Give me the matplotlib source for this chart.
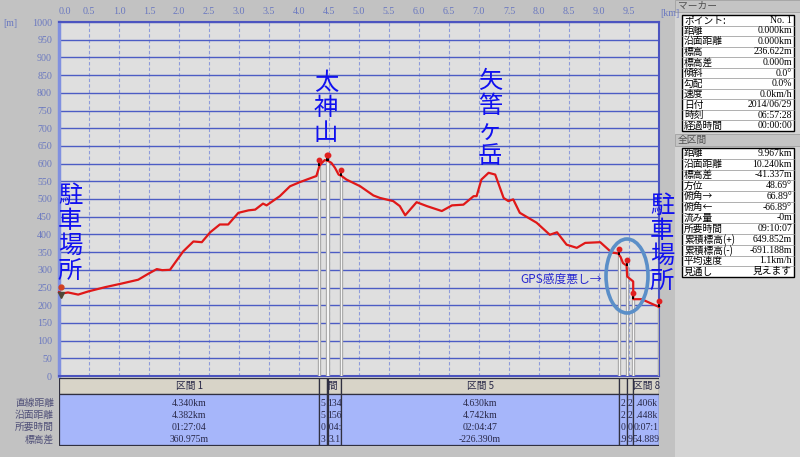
import numpy as np
import matplotlib
matplotlib.use('Agg')
import matplotlib.pyplot as plt
from matplotlib.patches import Rectangle, Ellipse

plt.rcParams['font.family'] = ['Noto Sans CJK JP', 'DejaVu Sans']

# 標高プロファイル (距離 km, 標高 m) - 画像から読み取り
dist_km = [0.00, 0.05, 0.15, 0.32, 0.49, 0.77, 1.04, 1.32, 1.49, 1.63, 1.72, 1.85,
           1.93, 2.07, 2.24, 2.38, 2.52, 2.68, 2.82, 2.99, 3.16, 3.27, 3.40, 3.46,
           3.68, 3.85, 4.02, 4.29, 4.34, 4.38, 4.43, 4.49, 4.54, 4.60, 4.66, 4.71,
           4.79, 5.02, 5.24, 5.35, 5.57, 5.68, 5.77, 5.96, 6.13, 6.38, 6.55, 6.74,
           6.91, 6.96, 7.04, 7.16, 7.27, 7.41, 7.49, 7.57, 7.68, 7.96, 8.18, 8.30,
           8.46, 8.63, 8.77, 9.02, 9.21, 9.32, 9.36, 9.40, 9.46, 9.47, 9.57, 9.57,
           9.71, 10.0]
elev_m = [237, 233, 236, 230, 239, 251, 261, 272, 289, 302, 299, 300,
          319, 352, 380, 378, 406, 428, 428, 461, 468, 470, 487, 482,
          508, 536, 548, 565, 593, 602, 610, 607, 602, 588, 569, 565,
          555, 536, 510, 503, 494, 480, 454, 491, 480, 466, 482, 484,
          508, 508, 555, 574, 569, 503, 494, 499, 461, 433, 399, 406,
          371, 362, 376, 378, 349, 346, 336, 319, 312, 281, 267, 217,
          217, 195]

# 区間の境界 (マーカー位置)
marker_km = [4.34, 4.46, 4.48, 4.70, 9.34, 9.46, 9.57, 10.0]
sec_edges = [0.0] + marker_km
sec_names = ['区間 1', '区間 2', '区間 3', '区間 4', '区間 5', '区間 6', '区間 7', '区間 8']
sec_straight = ['4.340km', '0.153km', '0.012km', '0.134km', '4.630km', '0.120km', '0.127km', '0.406km']
sec_surface = ['4.382km', '0.255km', '0.020km', '0.156km', '4.742km', '0.127km', '0.129km', '0.448km']
sec_time = ['01:27:04', '00:04:20', '00:00:20', '00:04:20', '02:04:47', '00:04:40', '00:04:40', '00:07:14']
sec_diff = ['360.975m', '19.310m', '3.100m', '-93.100m', '-226.390m', '-18.900m', '-8.950m', '-54.889m']
row_labels = ['直線距離', '沿面距離', '所要時間', '標高差']

marker_labels = ['ポイント:', '距離', '沿面距離', '標高', '標高差', '傾斜', '勾配',
                 '速度', '日付', '時刻', '経過時間']
marker_values = ['No. 1', '0.000km', '0.000km', '236.622m', '0.000m', '0.0°', '0.0%',
                 '0.0km/h', '2014/06/29', '06:57:28', '00:00:00']
total_labels = ['距離', '沿面距離', '標高差', '方位', '俯角→', '俯角←', '流み量',
                '所要時間', '累積標高(+)', '累積標高(-)', '平均速度', '見通し']
total_values = ['9.967km', '10.240km', '-41.337m', '48.69°', '66.89°', '-66.89°', '-0m',
                '09:10:07', '649.852m', '-691.188m', '1.1km/h', '見えます']

W, H = 800, 457
BG = '#c2c2c2'
SERIF = ['Liberation Serif', 'Noto Sans CJK JP']
ANNOT = '#1010f0'


def px_box(x0, y0, x1, y1):
    return [x0 / W, 1 - y1 / H, (x1 - x0) / W, (y1 - y0) / H]


def char_w(c):
    if ord(c) > 0x2000:
        return 9.5
    if c in '.:':
        return 2.5
    if c == ' ':
        return 2.5
    if c == 'm':
        return 7.6
    return 4.9


def fit_text(s, width_px):
    # 狭いセルでは中央部分だけ見える
    s = list(s)
    while s and sum(char_w(c) for c in s) > width_px + 2:
        if len(s) % 2:
            s = s[1:]
        else:
            s = s[:-1]
    return ''.join(s)


fig = plt.figure(figsize=(W / 100, H / 100), dpi=100, facecolor=BG)

# メインの標高グラフ
ax = fig.add_axes(px_box(59, 22, 659, 376))
ax.set_facecolor('#dfdfdf')
ax.set_xlim(0, 10)
ax.set_ylim(0, 1000)
xt = np.arange(0, 10.01, 0.5)
ax.set_xticks(xt)
ax.set_xticklabels(['%.1f' % v for v in xt[:-1]] + [''])
ax.set_yticks(np.arange(0, 1001, 50))
ax.xaxis.tick_top()
ax.tick_params(length=0, labelsize=7.2, labelcolor='#6a78c0')
ax.tick_params(axis='x', pad=4)
ax.tick_params(axis='y', pad=5)
for lbl in ax.get_xticklabels() + ax.get_yticklabels():
    lbl.set_family('Liberation Serif')
ax.get_xticklabels()[0].set_ha('left')
ax.grid(axis='y', color='#4c5cc4', lw=1.0)
ax.grid(axis='x', color='#8e9cdc', lw=0.8, ls=(0, (3, 2)))
ax.set_axisbelow(True)
for sp in ax.spines.values():
    sp.set_color('#4c54c0')
    sp.set_linewidth(1.5)
ax.spines['left'].set_color('#8090e0')
ax.spines['left'].set_linewidth(2.5)

mk_elev = np.interp(marker_km, dist_km, elev_m)
ax.vlines(marker_km, 0, mk_elev, color='#a8a8a8', lw=2.4, zorder=3)
ax.vlines(marker_km, 0, mk_elev, color='#f6f6f6', lw=0.8, zorder=3)
ax.plot(dist_km, elev_m, color='#e01818', lw=1.6, zorder=5, clip_on=False)
ax.vlines(marker_km, mk_elev, mk_elev + 14, color='black', lw=1.4, zorder=6, clip_on=False)
ax.plot(marker_km, mk_elev + 17, 'o', color='#e02020', ms=3.2, zorder=7, clip_on=False)
# スタート地点のアイコン
ax.plot([0.03], [252], 'o', color='#d04020', ms=3.5, zorder=7, clip_on=False)
ax.plot([0.03], [230], 'v', color='#504838', ms=5, zorder=7, clip_on=False)

# 区間テーブル
tab = fig.add_axes(px_box(59, 378, 659, 446))
tab.set_xlim(0, 10)
tab.set_ylim(446, 378)
tab.axis('off')
row_y = [403, 415, 427, 440]
for i in range(len(sec_names)):
    x0, x1 = sec_edges[i], sec_edges[i + 1]
    w_px = (x1 - x0) * 60
    tab.add_patch(Rectangle((x0, 378), x1 - x0, 16, fc='#d8d4c8', ec='#303040', lw=0.9))
    tab.add_patch(Rectangle((x0, 394), x1 - x0, 51, fc='#a6b6fa', ec='#303040', lw=0.9))
    xc = (x0 + x1) / 2
    items = [(386, fit_text(sec_names[i], w_px), ['Noto Sans CJK JP'])]
    cols = [sec_straight[i], sec_surface[i], sec_time[i], sec_diff[i]]
    items += [(y, fit_text(v, w_px), SERIF) for y, v in zip(row_y, cols)]
    for y, s, fam in items:
        if s:
            tab.text(xc, y, s, ha='center', va='center', fontsize=7, color='#282848',
                     family=fam)

# 注記などのオーバーレイ (ピクセル座標)
ov = fig.add_axes([0, 0, 1, 1], zorder=10)
ov.set_xlim(0, W)
ov.set_ylim(H, 0)
ov.axis('off')

ov.text(3, 24, '[m]', fontsize=7.2, color='#6a78c0', family='Liberation Serif', va='center')
ov.text(670, 13, '[km]', fontsize=7.2, color='#6a78c0', family='Liberation Serif',
        va='center', ha='center')
for y, s in zip(row_y, row_labels):
    ov.text(54, y, s, ha='right', va='center', fontsize=7, color='#505078')


def vtext(x, y0, s, step=25, size=17.5, color=ANNOT):
    for k, ch in enumerate(s):
        ov.text(x, y0 + k * step, ch, ha='center', va='center', fontsize=size, color=color)


vtext(70, 196, '駐車場所')
vtext(662, 206, '駐車場所')
vtext(326, 83, '太神山')
vtext(490, 81, '矢筈ヶ岳')
ov.text(561, 279, 'GPS感度悪し→', ha='center', va='center', fontsize=8.5, color='#2828d0')
ov.add_patch(Ellipse((627, 276), 42, 74, fill=False, ec='#5b8fc8', lw=2.6))

# 右側のパネル
ov.add_patch(Rectangle((675, 0), 125, H, fc='#d4d4d4', ec='none', zorder=0))
for y0, title in [(0, 'マーカー'), (134, '全区間')]:
    ov.add_patch(Rectangle((675, y0), 125, 12, fc='#c4c4c4', ec='#a0a0a0', lw=0.6, zorder=1))
    ov.text(678, y0 + 6, title, va='center', fontsize=7, color='#505050', zorder=2)


def panel(top, bottom, labels, values):
    ov.add_patch(Rectangle((682, top), 112, bottom - top, fc='white', ec='black', lw=1, zorder=1))
    step = (bottom - top) / len(labels)
    for k, (lab, val) in enumerate(zip(labels, values)):
        yc = top + (k + 0.5) * step
        if k > 0:
            ov.plot([682, 794], [top + k * step] * 2, color='#909090', lw=0.5, zorder=2)
        ov.text(684, yc, lab, va='center', fontsize=7, color='black', zorder=3)
        ov.text(792, yc, val, va='center', ha='right', fontsize=7, color='black',
                family=SERIF, zorder=3)


panel(15, 131, marker_labels, marker_values)
panel(148, 277, total_labels, total_values)

fig.savefig('out.png', dpi=100, facecolor=BG)
